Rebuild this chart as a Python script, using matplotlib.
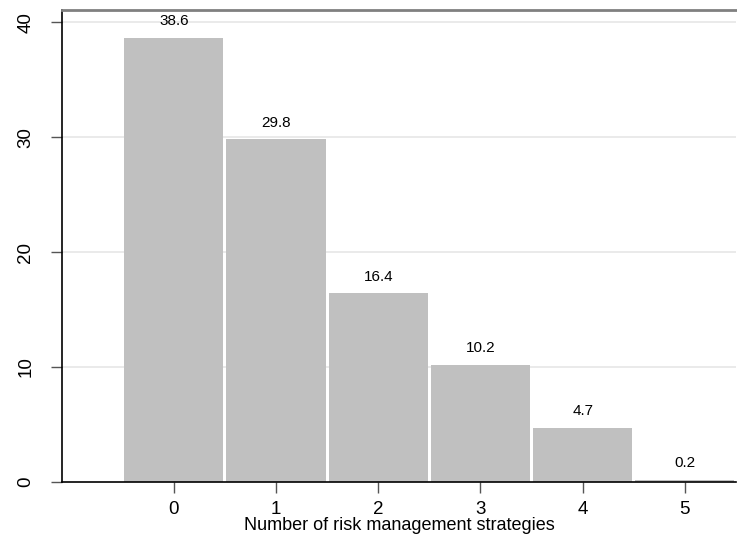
import numpy as np
import matplotlib.pyplot as plt

plt.rcParams['font.family'] = ['Liberation Sans', 'DejaVu Sans']

# Data
strategies = [0, 1, 2, 3, 4, 5]
percent = [38.6, 29.8, 16.4, 10.2, 4.7, 0.2]
yticks = [0, 10, 20, 30, 40]

fig = plt.figure(figsize=(7.37, 5.36), dpi=100)
ax = fig.add_axes([0.0841, 0.1007, 0.9145, 0.8806])

ax.bar(strategies, percent, width=0.97, color='#c0c0c0', linewidth=0, zorder=2)

for x, v in zip(strategies, percent):
    ax.text(x, v + 0.85, f'{v:.1f}', ha='center', va='bottom', fontsize=11)

ax.set_xlim(-1.094, 5.5)
ax.set_ylim(0, 41.05)
ax.set_xticks(strategies)
ax.set_yticks(yticks)
ax.set_yticklabels([str(t) for t in yticks], rotation=90, va='center')
ax.tick_params(labelsize=13.5, length=8, width=1, color='#555555')
ax.tick_params(axis='y', pad=12)
ax.tick_params(axis='x', pad=6)
ax.set_xlabel('Number of risk management strategies', fontsize=13, labelpad=-1)

for t in yticks[1:]:
    ax.axhline(t, color='#e6e6e6', linewidth=1.2, zorder=1)

ax.spines['right'].set_visible(False)
ax.spines['top'].set_color('#808080')
ax.spines['top'].set_linewidth(2)
ax.spines['left'].set_linewidth(1.2)
ax.spines['bottom'].set_linewidth(1.2)

fig.savefig('out.png', dpi=100)
